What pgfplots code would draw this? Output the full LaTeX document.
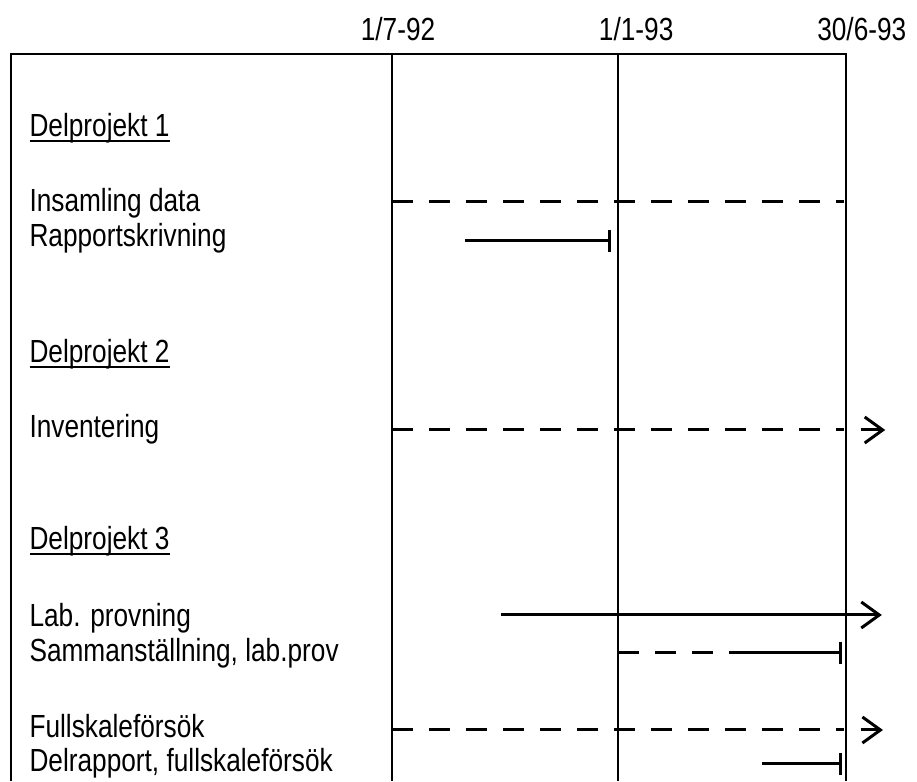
\documentclass[border=0pt]{standalone}
\usepackage{pgfplots}
\pgfplotsset{compat=1.18}
\usepackage{fontspec}
\setmainfont{Liberation Sans}[FakeStretch=0.82]
\usetikzlibrary{arrows.meta}
\newcommand\ul[1]{\setbox0\hbox{#1}\rlap{\rule[-2.6pt]{\wd0}{1.1pt}}\box0}
\tikzset{
  lbl/.style={font=\fontsize{16}{19}\selectfont,inner sep=0pt,anchor=base west},
  dsh/.style={black,line width=1.5pt,dash pattern=on 10.5pt off 8pt},
  sld/.style={black,line width=1.5pt},
  bar/.style={sld,-{Bar[width=11pt,line width=1.5pt]}},
  arr/.style={sld,-{Straight Barb[length=9pt,width=13pt,line width=1.5pt]}}}
\begin{document}
\begin{tikzpicture}
\begin{axis}[width=458.5pt,height=390.5pt,scale only axis,
  xmin=-10.37,xmax=13.89,ymin=-781,ymax=0,hide axis,clip=false]
\addplot[draw=none] coordinates {(-10.37,0) (13.89,-781)};
% frame
\addplot[black,line width=1pt] coordinates {(-10.08,-781) (-10.08,-54) (12.01,-54) (12.01,-781)};
\addplot[black,line width=1pt] coordinates {(0,-54) (0,-781)};
\addplot[black,line width=1pt] coordinates {(5.98,-54) (5.98,-781)};
% Delprojekt 1
\addplot[dsh] coordinates {(0,-202) (11.95,-202)};
\addplot[bar] coordinates {(1.93,-241) (5.8,-241)};
% Delprojekt 2
\addplot[dsh] coordinates {(0,-430) (11.95,-430)};
\addplot[arr] coordinates {(12.4,-430) (13.05,-430)};
% Delprojekt 3
\addplot[arr] coordinates {(2.88,-615) (12.96,-615)};
\addplot[dsh] coordinates {(5.98,-653) (9.18,-653)};
\addplot[bar] coordinates {(9.18,-653) (11.9,-653)};
\addplot[dsh] coordinates {(0,-730) (11.95,-730)};
\addplot[arr] coordinates {(12.4,-730) (12.99,-730)};
\addplot[bar] coordinates {(9.79,-764) (11.9,-764)};
% labels
\node[lbl,anchor=base] at (axis cs:0.16,-41) {1/7-92};
\node[lbl,anchor=base] at (axis cs:6.46,-41) {1/1-93};
\node[lbl,anchor=base] at (axis cs:12.43,-41) {30/6-93};
\node[lbl] at (axis cs:-9.6,-137) {\ul{Delprojekt 1}};
\node[lbl] at (axis cs:-9.6,-212) {Insamling data};
\node[lbl] at (axis cs:-9.6,-247) {Rapportskrivning};
\node[lbl] at (axis cs:-9.6,-363) {\ul{Delprojekt 2}};
\node[lbl] at (axis cs:-9.6,-438) {Inventering};
\node[lbl] at (axis cs:-9.6,-550) {\ul{Delprojekt 3}};
\node[lbl] at (axis cs:-9.6,-627) {Lab. provning};
\node[lbl] at (axis cs:-9.6,-662) {Sammanställning, lab.prov};
\node[lbl] at (axis cs:-9.6,-738) {Fullskaleförsök};
\node[lbl] at (axis cs:-9.6,-772) {Delrapport, fullskaleförsök};
\end{axis}
\end{tikzpicture}
\end{document}
